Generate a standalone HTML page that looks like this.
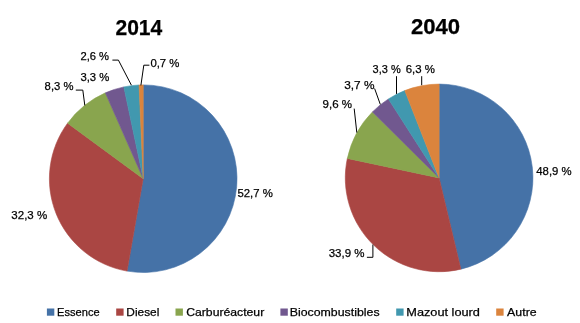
<!DOCTYPE html>
<html><head><meta charset="utf-8"><style>
html,body{margin:0;padding:0;background:#fff;width:580px;height:323px;overflow:hidden}
svg{position:absolute;left:0;top:0}
.t{will-change:transform}
text{font-family:"Liberation Sans",sans-serif;fill:#000;stroke:#000;stroke-width:0.25px}
</style></head><body>
<svg width="580" height="323" viewBox="0 0 580 323">
<rect width="580" height="323" fill="#fff"/>
<path d="M143.20,178.70 L143.20,84.90 A93.8,93.8 0 1 1 127.06,271.10 Z" fill="#4572A7" stroke="#4572A7" stroke-width="0.6" stroke-linejoin="round"/>
<path d="M143.20,178.70 L127.06,271.10 A93.8,93.8 0 0 1 67.61,123.16 Z" fill="#AA4643" stroke="#AA4643" stroke-width="0.6" stroke-linejoin="round"/>
<path d="M143.20,178.70 L67.61,123.16 A93.8,93.8 0 0 1 105.37,92.87 Z" fill="#89A54E" stroke="#89A54E" stroke-width="0.6" stroke-linejoin="round"/>
<path d="M143.20,178.70 L105.37,92.87 A93.8,93.8 0 0 1 123.87,86.91 Z" fill="#71588F" stroke="#71588F" stroke-width="0.6" stroke-linejoin="round"/>
<path d="M143.20,178.70 L123.87,86.91 A93.8,93.8 0 0 1 139.07,84.99 Z" fill="#4198AF" stroke="#4198AF" stroke-width="0.6" stroke-linejoin="round"/>
<path d="M143.20,178.70 L139.07,84.99 A93.8,93.8 0 0 1 143.20,84.90 Z" fill="#DB843D" stroke="#DB843D" stroke-width="0.6" stroke-linejoin="round"/>
<path d="M439.10,177.90 L439.10,84.10 A93.8,93.8 0 0 1 460.92,269.13 Z" fill="#4572A7" stroke="#4572A7" stroke-width="0.6" stroke-linejoin="round"/>
<path d="M439.10,177.90 L460.92,269.13 A93.8,93.8 0 0 1 347.35,158.39 Z" fill="#AA4643" stroke="#AA4643" stroke-width="0.6" stroke-linejoin="round"/>
<path d="M439.10,177.90 L347.35,158.39 A93.8,93.8 0 0 1 372.43,111.92 Z" fill="#89A54E" stroke="#89A54E" stroke-width="0.6" stroke-linejoin="round"/>
<path d="M439.10,177.90 L372.43,111.92 A93.8,93.8 0 0 1 388.43,98.96 Z" fill="#71588F" stroke="#71588F" stroke-width="0.6" stroke-linejoin="round"/>
<path d="M439.10,177.90 L388.43,98.96 A93.8,93.8 0 0 1 404.79,90.60 Z" fill="#4198AF" stroke="#4198AF" stroke-width="0.6" stroke-linejoin="round"/>
<path d="M439.10,177.90 L404.79,90.60 A93.8,93.8 0 0 1 439.10,84.10 Z" fill="#DB843D" stroke="#DB843D" stroke-width="0.6" stroke-linejoin="round"/>
<g fill="none" stroke="#000" stroke-width="1">
<path d="M112.4,60.1 L118.4,60.1 L131.4,85.2"/>
<path d="M75.8,90.1 L82.8,90.1 L84.8,105.4"/>
<path d="M149.4,65.2 L143.8,65.2 L140.9,85.4"/>
<path d="M396.5,76.2 L396.5,93.9"/>
<path d="M421.7,76.2 L421.7,85.2"/>
<path d="M374.6,88.5 L380.3,104.4"/>
<path d="M354.2,108.6 L356.8,132.6"/>
<path d="M366.9,257.3 L372.9,257.3 L372.9,244.6"/>
</g>
<rect x="46.9" y="308.5" width="7.4" height="7.2" fill="#4572A7"/>
<rect x="116.2" y="308.5" width="7.4" height="7.2" fill="#AA4643"/>
<rect x="175.5" y="308.5" width="7.4" height="7.2" fill="#89A54E"/>
<rect x="280.4" y="308.5" width="7.4" height="7.2" fill="#71588F"/>
<rect x="396.2" y="308.5" width="7.4" height="7.2" fill="#4198AF"/>
<rect x="496.2" y="308.5" width="7.4" height="7.2" fill="#DB843D"/>

</svg>
<svg class="t" width="580" height="323" viewBox="0 0 580 323">
<g>
<text x="115.48" y="35.00" textLength="46.81" lengthAdjust="spacingAndGlyphs" font-size="21.5" font-weight="bold" stroke-width="0.3">2014</text>
<text x="410.94" y="33.96" textLength="49.19" lengthAdjust="spacingAndGlyphs" font-size="21.5" font-weight="bold" stroke-width="0.3">2040</text>
<text x="80.43" y="60.06" textLength="28.67" lengthAdjust="spacingAndGlyphs" font-size="11.8" font-weight="normal" stroke-width="0.15">2,6 %</text>
<text x="80.41" y="81.35" textLength="28.92" lengthAdjust="spacingAndGlyphs" font-size="11.8" font-weight="normal" stroke-width="0.15">3,3 %</text>
<text x="44.62" y="89.84" textLength="28.83" lengthAdjust="spacingAndGlyphs" font-size="11.8" font-weight="normal" stroke-width="0.15">8,3 %</text>
<text x="150.39" y="66.77" textLength="29.07" lengthAdjust="spacingAndGlyphs" font-size="11.8" font-weight="normal" stroke-width="0.15">0,7 %</text>
<text x="237.46" y="197.40" textLength="35.40" lengthAdjust="spacingAndGlyphs" font-size="11.8" font-weight="normal" stroke-width="0.15">52,7 %</text>
<text x="11.35" y="218.63" textLength="35.85" lengthAdjust="spacingAndGlyphs" font-size="11.8" font-weight="normal" stroke-width="0.15">32,3 %</text>
<text x="372.57" y="72.55" textLength="28.11" lengthAdjust="spacingAndGlyphs" font-size="11.8" font-weight="normal" stroke-width="0.15">3,3 %</text>
<text x="405.77" y="72.65" textLength="29.19" lengthAdjust="spacingAndGlyphs" font-size="11.8" font-weight="normal" stroke-width="0.15">6,3 %</text>
<text x="344.17" y="88.74" textLength="30.28" lengthAdjust="spacingAndGlyphs" font-size="11.8" font-weight="normal" stroke-width="0.15">3,7 %</text>
<text x="322.53" y="107.66" textLength="29.50" lengthAdjust="spacingAndGlyphs" font-size="11.8" font-weight="normal" stroke-width="0.15">9,6 %</text>
<text x="536.27" y="174.65" textLength="35.35" lengthAdjust="spacingAndGlyphs" font-size="11.8" font-weight="normal" stroke-width="0.15">48,9 %</text>
<text x="328.67" y="256.98" textLength="35.89" lengthAdjust="spacingAndGlyphs" font-size="11.8" font-weight="normal" stroke-width="0.15">33,9 %</text>
<text x="57.08" y="315.58" textLength="42.58" lengthAdjust="spacingAndGlyphs" font-size="11.8" font-weight="normal" stroke-width="0.05">Essence</text>
<text x="126.39" y="315.58" textLength="32.98" lengthAdjust="spacingAndGlyphs" font-size="11.8" font-weight="normal" stroke-width="0.05">Diesel</text>
<text x="186.18" y="315.58" textLength="78.06" lengthAdjust="spacingAndGlyphs" font-size="11.8" font-weight="normal" stroke-width="0.05">Carburéacteur</text>
<text x="289.71" y="315.58" textLength="89.87" lengthAdjust="spacingAndGlyphs" font-size="11.8" font-weight="normal" stroke-width="0.05">Biocombustibles</text>
<text x="406.27" y="315.58" textLength="73.66" lengthAdjust="spacingAndGlyphs" font-size="11.8" font-weight="normal" stroke-width="0.05">Mazout lourd</text>
<text x="507.10" y="315.58" textLength="29.56" lengthAdjust="spacingAndGlyphs" font-size="11.8" font-weight="normal" stroke-width="0.05">Autre</text>
</g>
</svg>
</body></html>
